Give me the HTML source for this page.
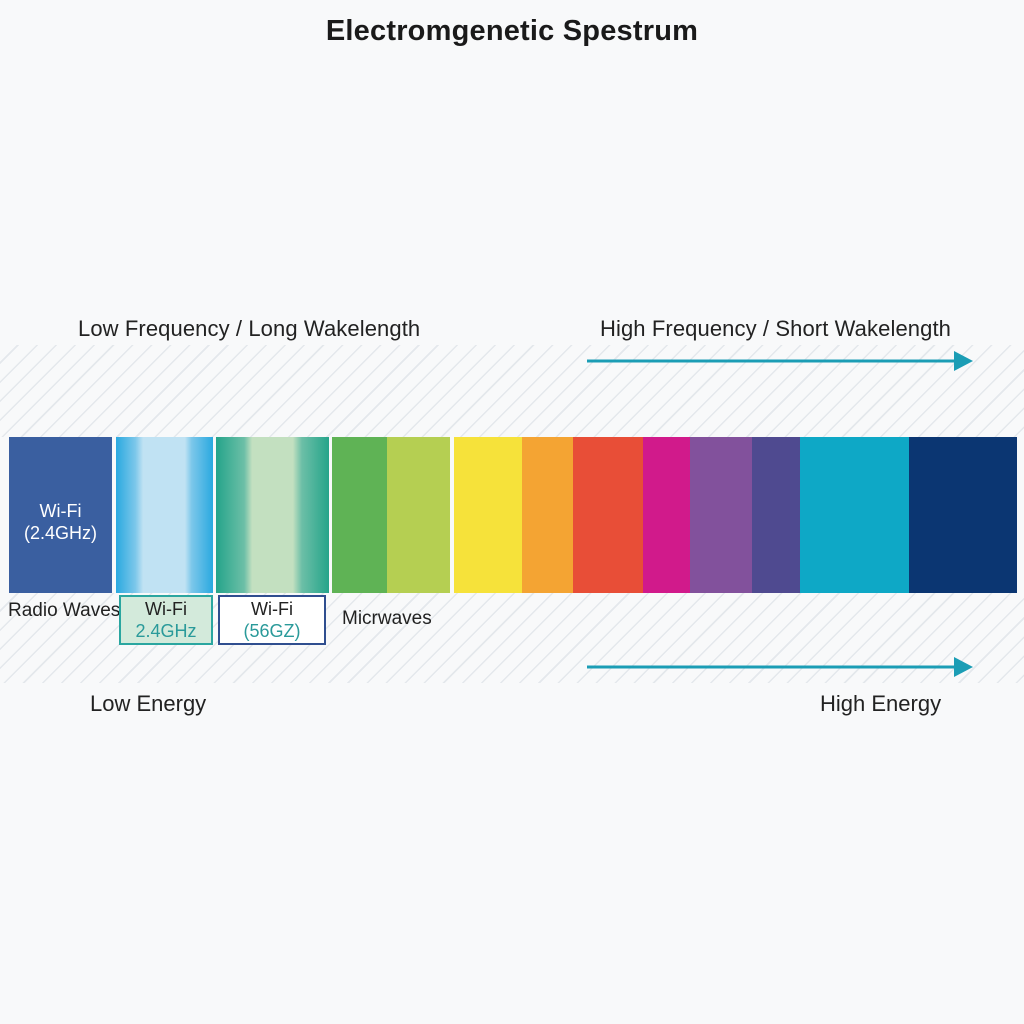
<!DOCTYPE html>
<html><head><style>
body{margin:0;width:1024px;height:1024px;background:#f8f9fa;position:relative;overflow:hidden;font-family:"Liberation Sans","DejaVu Sans",sans-serif;color:#222}
.a{position:absolute}
.hatch{left:0;width:1024px;background:repeating-linear-gradient(135deg,transparent 0 12px,rgba(190,200,210,.35) 12px 13.5px)}
.s{position:absolute;top:437px;height:156px}
.t{position:absolute;white-space:nowrap}
</style></head><body>
<div class="a hatch" style="top:345px;height:92px"></div>
<div class="a hatch" style="top:593px;height:90px"></div>
<div class="t" style="left:0;width:1024px;top:15px;text-align:center;font-size:29px;font-weight:bold;color:#1a1a1a;letter-spacing:.2px">Electromgenetic Spestrum</div>
<div class="t" style="left:78px;top:316px;font-size:22px;letter-spacing:.1px">Low Frequency / Long Wakelength</div>
<div class="t" style="left:600px;top:316px;font-size:22px;letter-spacing:.1px">High Frequency / Short Wakelength</div>
<svg class="a" style="left:0;top:0" width="1024" height="1024">
<line x1="587" y1="361" x2="958" y2="361" stroke="#1b9db5" stroke-width="3"/>
<polygon points="954,351 973,361 954,371" fill="#1b9db5"/>
<line x1="587" y1="667" x2="958" y2="667" stroke="#1b9db5" stroke-width="3"/>
<polygon points="954,657 973,667 954,677" fill="#1b9db5"/>
</svg>
<div class="s" style="left:9px;width:103px;background:#3a5fa0"></div>
<div class="s" style="left:116px;width:97px;background:linear-gradient(90deg,#2aa9e0 0%,#7cc7ea 20%,#c0e2f3 28%,#c0e2f3 71%,#7cc7ea 78%,#2aa9e0 100%)"></div>
<div class="s" style="left:216px;width:113px;background:linear-gradient(90deg,#25a48a 0%,#6cbfa7 25%,#c3e0c0 32%,#c3e0c0 68%,#6cbfa7 76%,#25a48a 100%)"></div>
<div class="s" style="left:332px;width:55px;background:#5fb355"></div>
<div class="s" style="left:387px;width:63px;background:#b5cf52"></div>
<div class="s" style="left:454px;width:68px;background:#f6e23a"></div>
<div class="s" style="left:522px;width:51px;background:#f4a433"></div>
<div class="s" style="left:573px;width:70px;background:#e84e37"></div>
<div class="s" style="left:643px;width:47px;background:#d11a8b"></div>
<div class="s" style="left:690px;width:62px;background:#82519c"></div>
<div class="s" style="left:752px;width:48px;background:#4f4a90"></div>
<div class="s" style="left:800px;width:109px;background:#0ea8c6"></div>
<div class="s" style="left:909px;width:108px;background:#0b3672"></div>
<div class="t" style="left:9px;width:103px;top:500px;text-align:center;color:#fff;font-size:18px;line-height:22px">Wi-Fi<br>(2.4GHz)</div>
<div class="t" style="left:8px;top:600px;font-size:19px">Radio Waves</div>
<div class="a" style="left:119px;top:595px;width:90px;height:46px;background:#d3eadb;border:2px solid #2aa6a0"></div>
<div class="t" style="left:119px;width:94px;top:598px;text-align:center;font-size:18px;line-height:22px">Wi-Fi<br><span style="color:#2a9a9a">2.4GHz</span></div>
<div class="a" style="left:218px;top:595px;width:104px;height:46px;background:#fff;border:2px solid #2f4e8f"></div>
<div class="t" style="left:218px;width:108px;top:598px;text-align:center;font-size:18px;line-height:22px">Wi-Fi<br><span style="color:#2a9a9a">(56GZ)</span></div>
<div class="t" style="left:342px;top:608px;font-size:19px">Micrwaves</div>
<div class="t" style="left:90px;top:691px;font-size:22px">Low Energy</div>
<div class="t" style="left:820px;top:691px;font-size:22px">High Energy</div>
</body></html>
